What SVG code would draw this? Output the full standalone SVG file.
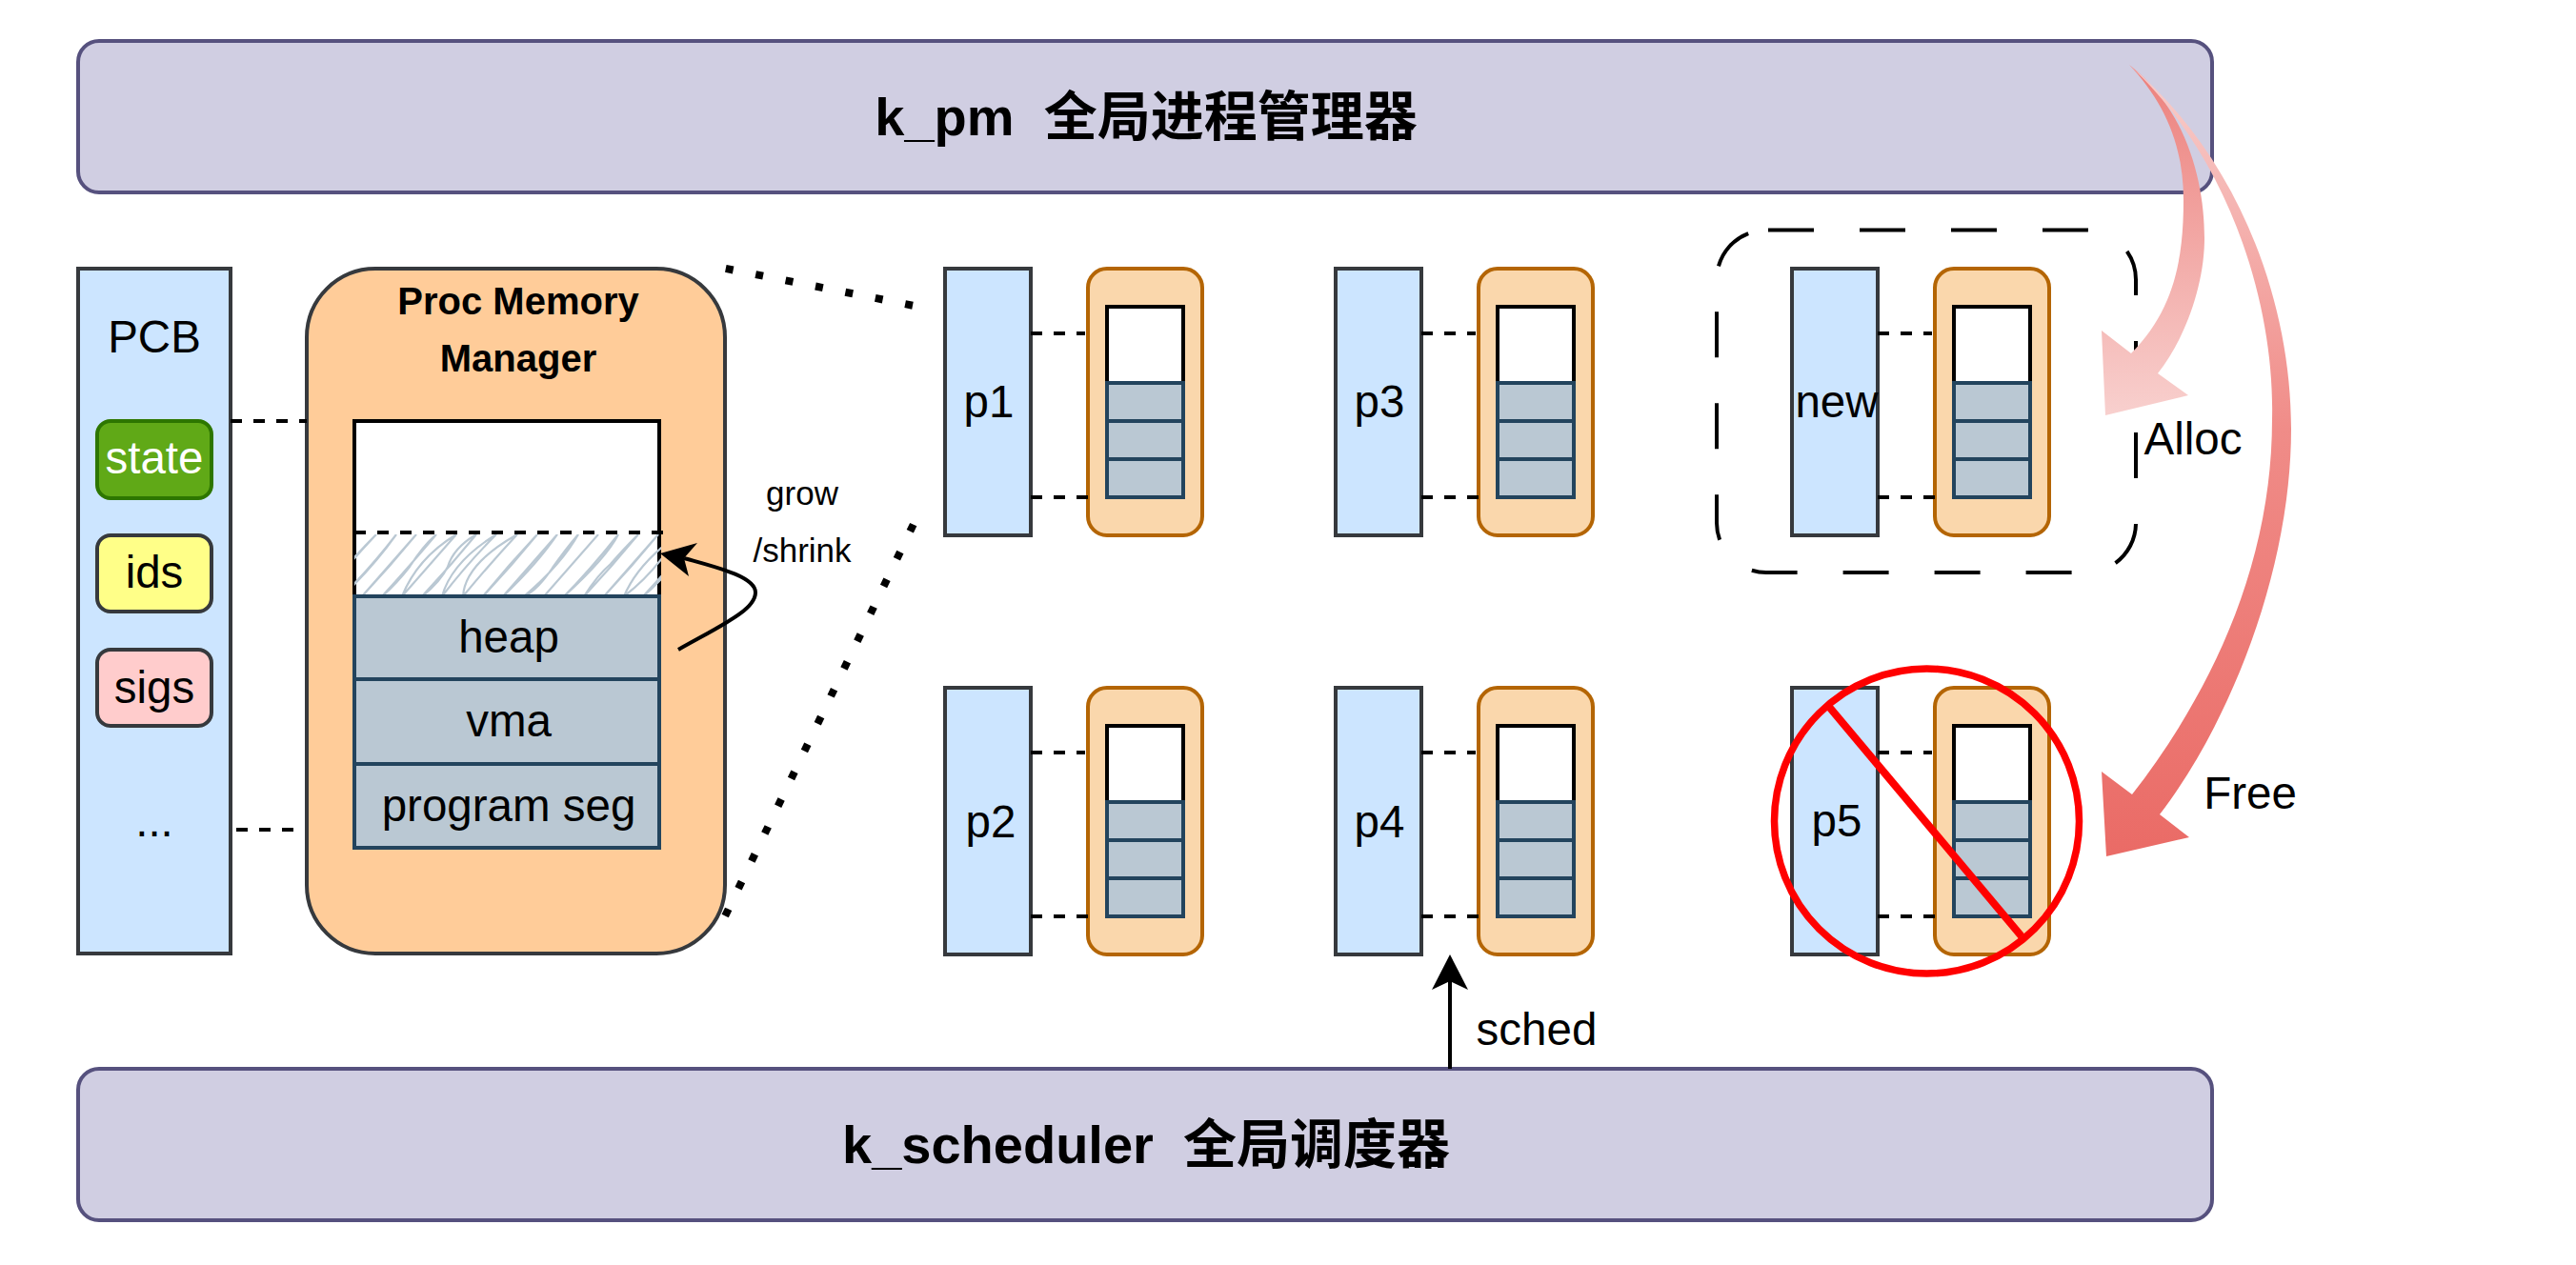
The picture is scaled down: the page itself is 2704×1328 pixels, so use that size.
<svg xmlns="http://www.w3.org/2000/svg" width="2704" height="1328" viewBox="0 0 2704 1328">
<style>
text{font-family:"Liberation Sans","Noto Sans CJK SC",sans-serif;font-size:47.500px;fill:#000;text-anchor:middle}
.bar{fill:#d0cee2;stroke:#56517e;stroke-width:4}
.title{font-size:56px;font-weight:bold;white-space:pre}
.pcb{fill:#cce5ff;stroke:#36393d;stroke-width:4}
.pmm{fill:#ffcc99;stroke:#36393d;stroke-width:4}
.box{fill:#fad7ac;stroke:#b46504;stroke-width:4}
.white{fill:#fff;stroke:#000;stroke-width:4}
.seg{fill:#bac8d3;stroke:#23445d;stroke-width:4}
.dash{fill:none;stroke:#000;stroke-width:4;stroke-dasharray:12 12}
.dot{fill:none;stroke:#000;stroke-width:8;stroke-dasharray:8 24}
.red{fill:none;stroke:#ff0000;stroke-width:7.500}
</style>
<defs>
<clipPath id="hatchClip"><rect x="372" y="561" width="322" height="65"/></clipPath>
<linearGradient id="gAlloc" x1="0" y1="0" x2="0" y2="1"><stop offset="0" stop-color="#ec7f7b"/><stop offset="1" stop-color="#f8d0ce"/></linearGradient>
<linearGradient id="gFree" x1="0" y1="0" x2="0" y2="1"><stop offset="0" stop-color="#f8cecc"/><stop offset="0.46" stop-color="#f08c88"/><stop offset="1" stop-color="#ea6b66"/></linearGradient>
<g id="proc">
<rect class="pcb" x="992" y="282" width="90" height="280"/>
<rect class="box" x="1142" y="282" width="120" height="280" rx="20"/>
<path class="dash" d="M1082,350H1139M1082,522H1142"/>
<rect class="white" x="1162" y="322" width="80" height="80"/>
<rect class="seg" x="1162" y="402" width="80" height="40"/>
<rect class="seg" x="1162" y="442" width="80" height="40"/>
<rect class="seg" x="1162" y="482" width="80" height="40"/>
</g>
</defs>
<g id="k_pm"><rect class="bar" x="82" y="43" width="2240" height="159" rx="22"/><text class="title" x="1203" y="142">k_pm  全局进程管理器</text></g>
<g id="k_scheduler"><rect class="bar" x="82" y="1122" width="2240" height="159" rx="22"/><text class="title" x="1203" y="1221">k_scheduler  全局调度器</text></g>
<g id="pcb">
<rect class="pcb" x="82" y="282" width="160" height="719"/>
<text x="162" y="370">PCB</text>
<g id="state"><rect x="102" y="442" width="120" height="81" rx="14" fill="#60a917" stroke="#2d7600" stroke-width="4"/><text x="162" y="497" style="fill:#fff">state</text></g>
<g id="ids"><rect x="102" y="562" width="120" height="80" rx="14" fill="#ffff88" stroke="#36393d" stroke-width="4"/><text x="162" y="617">ids</text></g>
<g id="sigs"><rect x="102" y="682" width="120" height="80" rx="14" fill="#ffcccc" stroke="#36393d" stroke-width="4"/><text x="162" y="738">sigs</text></g>
<text x="162" y="878">...</text>
</g>
<g id="pmm">
<rect class="pmm" x="322" y="282" width="439" height="719" rx="72"/>
<text x="544" y="330" style="font-size:40px;font-weight:bold">Proc Memory</text>
<text x="544" y="389.500" style="font-size:40px;font-weight:bold">Manager</text>
<rect class="white" x="372" y="442" width="320" height="184"/>
<path clip-path="url(#hatchClip)" fill="none" stroke="#bac8d3" stroke-width="2.200" d="M338,626q26,-34 57,-65q-30,32 -57,65M359,626q32,-30 57,-65q-26,34 -57,65M380,626q30,-34 57,-65q-28,34 -57,65M401,626q24,-26 57,-65q-14,12 -28,34q-14,18 -29,31M422,626q16,-40 57,-65q-30,34 -57,65M443,626q30,-32 57,-65q-24,14 -30,34q-8,16 -27,31M464,626q10,-36 57,-65q-30,30 -57,65M486,626q2,-34 57,-65q-28,30 -57,65M507,626q30,-32 57,-65q-30,32 -57,65M528,626q36,-34 57,-65q-30,34 -57,65M550,626q14,-6 30,-30q14,-20 27,-35q-18,32 -57,65M571,626q30,-34 57,-65q-30,34 -57,65M592,626q26,-26 57,-65q-12,24 -57,65M613,626q14,-22 28,-34q12,-14 29,-31q-28,34 -57,65M634,626q30,-34 57,-65q-28,34 -57,65M655,626q14,-34 57,-65q-24,40 -57,65M675,626q24,-20 57,-65q-30,36 -57,65"/>
<path d="M372,559H696" fill="none" stroke="#000" stroke-width="4" stroke-dasharray="12 12"/>
<rect class="seg" x="372" y="626" width="320" height="87"/>
<rect class="seg" x="372" y="713" width="320" height="89"/>
<rect class="seg" x="372" y="802" width="320" height="88"/>
<text x="534" y="685">heap</text>
<text x="534" y="773">vma</text>
<text x="534" y="862">program seg</text>
</g>
<g id="p1"><use href="#proc"/><text x="1038" y="438">p1</text></g>
<g id="p3"><use href="#proc" x="410"/><text x="1448" y="438">p3</text></g>
<g id="new"><use href="#proc" x="889"/><text x="1928" y="438">new</text></g>
<g id="p2"><use href="#proc" y="440"/><text x="1040" y="879">p2</text></g>
<g id="p4"><use href="#proc" x="410" y="440"/><text x="1448" y="879">p4</text></g>
<g id="p5"><use href="#proc" x="889" y="440"/><text x="1928" y="878">p5</text></g>
<g id="connectors">
<path d="M242,442H322M248,871H312" fill="none" stroke="#000" stroke-width="4" stroke-dasharray="12 12"/>
<path class="dot" d="M761.800,281.900L962,321.500"/>
<path class="dot" d="M761.200,961.600L960,548"/>
<path d="M1856,241.500H2190A52,52 0 0 1 2242,293.500V549A52,52 0 0 1 2190,601H1854A52,52 0 0 1 1802,549V293.500A52,52 0 0 1 1854,241.500Z" fill="none" stroke="#000" stroke-width="4" stroke-dasharray="48 48"/>
<path d="M712,682C760,655 793,640 793,622C793,605 750,595 718,586" fill="none" stroke="#000" stroke-width="4"/>
<path d="M693,581L732,570L718,586L723,605Z" fill="#000"/>
<path d="M1522,1122V1025" fill="none" stroke="#000" stroke-width="4"/>
<path d="M1522,1002L1541,1039L1522,1030L1503,1039Z" fill="#000"/>
<path d="M2235,68C2295,115 2314,190 2314,250C2314,300 2293,357 2265,392L2297,415L2210,436L2206,347L2237,371C2283,325 2292,270 2292,210C2292,150 2270,105 2235,68Z" fill="url(#gAlloc)"/>
<path d="M2235,68C2345,160 2405,310 2405,450C2405,600 2340,760 2267,855L2298,879L2211,899L2206,810L2238,834C2315,735 2385,600 2385,440C2388,320 2340,165 2235,68Z" fill="url(#gFree)"/>
<ellipse class="red" cx="2022.500" cy="862" rx="160" ry="160"/>
<path class="red" d="M1920,742L2122,983" style="stroke-width:8"/>
<text x="842" y="530" style="font-size:35px">grow</text>
<text x="842" y="590" style="font-size:35px">/shrink</text>
<text x="1613" y="1097">sched</text>
<text x="2302" y="477">Alloc</text>
<text x="2362" y="849">Free</text>
</g>
</svg>
